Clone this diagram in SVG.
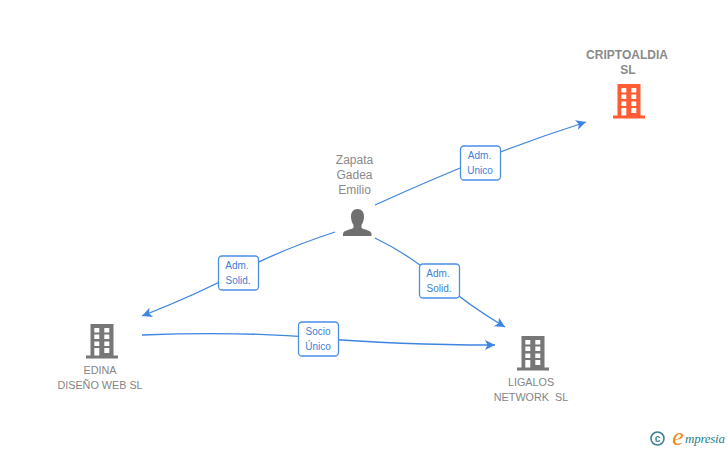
<svg xmlns="http://www.w3.org/2000/svg" width="728" height="450" viewBox="0 0 728 450">
<style>
.e{fill:none;stroke:#3d85e0;stroke-width:1.3}
.b{fill:#fff;stroke:#4a8ee6;stroke-width:1.3}
.l{font:10px "Liberation Sans",Arial,sans-serif;fill:#3d7fd9;text-anchor:middle}
.n{font:10.8px "Liberation Sans",Arial,sans-serif;fill:#858585;text-anchor:middle}
.c{font:bold 12px "Liberation Sans",Arial,sans-serif;fill:#8a8a8a;text-anchor:middle}
.p{font:12px "Liberation Sans",Arial,sans-serif;fill:#8a8a8a;text-anchor:middle}
</style>
<defs>
<marker id="a" markerUnits="userSpaceOnUse" markerWidth="14" markerHeight="12" refX="10" refY="5" orient="auto"><path d="M0 0L10 5L0 10L2.500 5Z" fill="#3d85e0"/></marker>
<g id="bld">
<path fill-rule="evenodd" d="M-11.500 -17H11.500V14.500H16V17.500H-16V14.500H-11.500ZM-7.700 -13V-8.500H-2.700V-13ZM2.300 -13V-8.500H7.300V-13ZM-7.700 -6.500V-2H-2.700V-6.500ZM2.300 -6.500V-2H7.300V-6.500ZM-7.700 0.500V5H-2.700V0.500ZM2.300 0.500V5H7.300V0.500ZM-7.700 7V14.500H-2.700V7ZM2.300 7V12H7.300V7Z"/>
</g>
</defs>
<rect width="728" height="450" fill="#fff"/>
<g id="connectors">
<path class="e" marker-end="url(#a)" d="M375 205Q430 180 480 160T586 122"/>
<path class="e" marker-end="url(#a)" d="M335 232Q280 250 239 272T142 316"/>
<path class="e" marker-end="url(#a)" d="M375 238Q410 255 439 280T505 327"/>
<path class="e" marker-end="url(#a)" d="M142 335Q240 331 318 338T495 345"/>
</g>
<g id="label1"><rect class="b" x="460.500" y="146" width="40" height="34" rx="3.500"/><text class="l" x="479.500" y="159">Adm.</text><text class="l" x="480" y="174">Unico</text></g>
<g id="label2"><rect class="b" x="218.500" y="256" width="40" height="34" rx="3.500"/><text class="l" x="237" y="269">Adm.</text><text class="l" x="238" y="284">Solid.</text></g>
<g id="label3"><rect class="b" x="419.500" y="264" width="40" height="34" rx="3.500"/><text class="l" x="438" y="277">Adm.</text><text class="l" x="439" y="292">Solid.</text></g>
<g id="label4"><rect class="b" x="298.500" y="322" width="40" height="34" rx="3.500"/><text class="l" x="318" y="335">Socio</text><text class="l" x="318" y="350">Único</text></g>
<g id="person"><text class="p" x="354.500" y="164">Zapata</text><text class="p" x="354.500" y="179">Gadea</text><text class="p" x="354.500" y="194">Emilio</text>
<path fill="#6f6f6f" d="M357.500 209C361.500 209 364 212 364 216.500C364 220 363 223 361.500 225V228C365 230 371.500 230.500 371.500 234V236H343V234C343 230.500 349.500 230 353.500 228V225C352 223 351 220 351 216.500C351 212 353.500 209 357.500 209Z"/></g>
<g id="criptoaldia"><text class="c" x="627" y="59">CRIPTOALDIA</text><text class="c" x="628" y="74">SL</text><use href="#bld" x="629" y="101" fill="#ff5c33"/></g>
<g id="edina"><text class="n" x="100" y="374">EDINA</text><text class="n" x="100" y="389">DISEÑO WEB SL</text><use href="#bld" x="102" y="341" fill="#777"/></g>
<g id="ligalos"><text class="n" x="531" y="386">LIGALOS</text><text class="n" x="531" y="401" xml:space="preserve">NETWORK  SL</text><use href="#bld" x="533" y="353" fill="#777"/></g>
<g id="logo"><circle cx="657.500" cy="438.500" r="6.500" fill="none" stroke="#3f7f92" stroke-width="1.600"/><text x="657.500" y="441.500" style="font:bold 10px 'Liberation Sans',sans-serif;fill:#3f7f92;text-anchor:middle">c</text>
<text x="678" y="445" style="font:italic 26px 'Liberation Serif',serif;fill:#f08a1d;text-anchor:middle">e</text><text x="685" y="443" textLength="40" style="font:italic 13px 'Liberation Serif',serif;fill:#2a7f8f">mpresia</text></g>
</svg>
